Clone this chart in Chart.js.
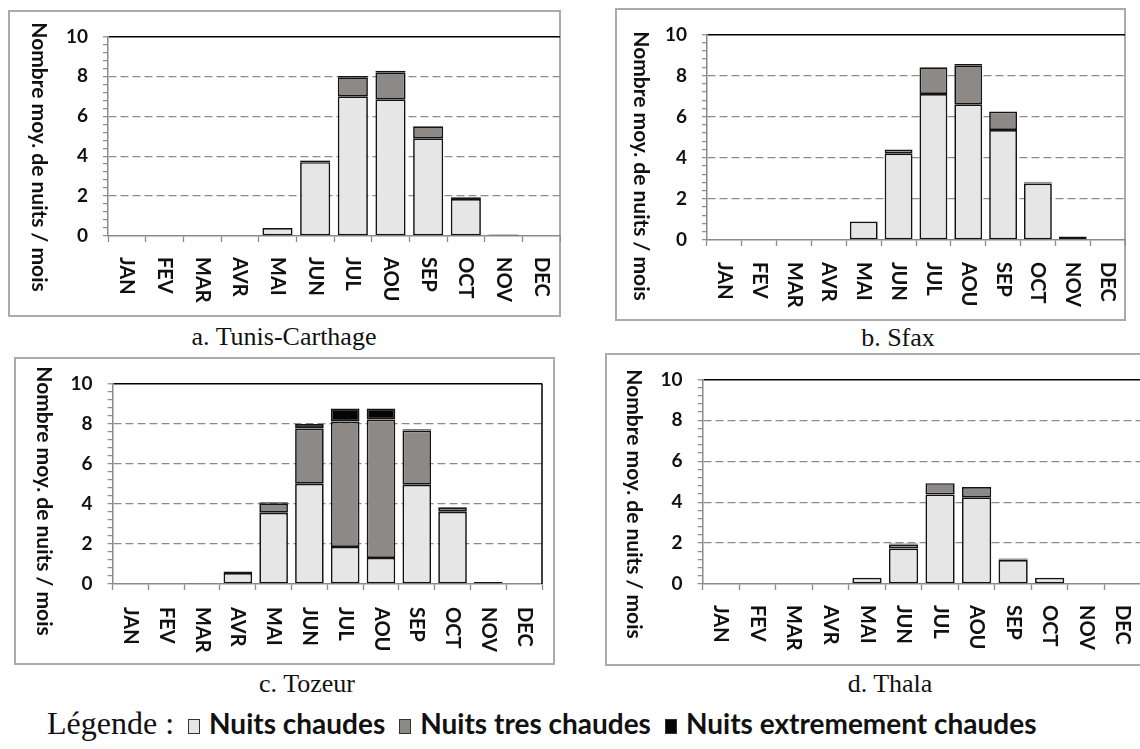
<!DOCTYPE html>
<html lang="fr">
<head>
<meta charset="utf-8">
<title>Nombre moyen de nuits chaudes par mois</title>
<script src="https://cdn.jsdelivr.net/npm/chart.js@4.4.1/dist/chart.umd.min.js"></script>
<style>
  html, body { margin: 0; padding: 0; background: #fff; overflow: hidden; }
  body { width: 1140px; height: 749px; position: relative; }
  .frame { position: absolute; box-sizing: border-box; border: 2px solid #ababab; }
  canvas.panel { position: absolute; }
  .caption {
    position: absolute; transform: translate(-50%, -50%); white-space: nowrap;
    font-family: "Liberation Serif", "Times New Roman", serif; font-size: 26px; color: #111;
  }
  .legend {
    position: absolute; left: 47px; top: 705px; height: 44px;
    display: flex; align-items: baseline; white-space: nowrap;
  }
  .legend .lt { font-family: "Liberation Serif", serif; font-size: 32px; color: #111; margin-right: 14px; }
  .legend .it { font-family: Lato, sans-serif; font-weight: 700; font-size: 28px; color: #111; margin-right: 14px; }
  .legend .sw {
    display: inline-block; width: 10px; height: 13px; border: 1.5px solid #333;
    margin-right: 9px; vertical-align: baseline;
  }
</style>
</head>
<body>
<div id="root"></div>
<script>
const months = ['JAN', 'FEV', 'MAR', 'AVR', 'MAI', 'JUN', 'JUL', 'AOU', 'SEP', 'OCT', 'NOV', 'DEC'];
const yTicks = [0, 2, 4, 6, 8, 10];
const seriesNames = ['Nuits chaudes', 'Nuits tres chaudes', 'Nuits extremement chaudes'];
const seriesColors = ['#e6e6e6', '#8d8986', '#050505'];
const axisTitle = 'Nombre moy. de nuits / mois';

// a. Tunis-Carthage
const tunisChaudes = [0, 0, 0, 0, 0.4, 3.7, 7.0, 6.85, 4.9, 1.85, 0.08, 0];
const tunisTres    = [0, 0, 0, 0, 0, 0.07, 0.95, 1.35, 0.6, 0.06, 0, 0];
const tunisExtreme = [0, 0, 0, 0, 0, 0.03, 0.06, 0.08, 0, 0.03, 0, 0];

// b. Sfax
const sfaxChaudes = [0, 0, 0, 0, 0.9, 4.2, 7.1, 6.6, 5.35, 2.75, 0.17, 0];
const sfaxTres    = [0, 0, 0, 0, 0, 0.2, 1.3, 1.9, 0.9, 0.05, 0, 0];
const sfaxExtreme = [0, 0, 0, 0, 0, 0, 0, 0.06, 0, 0.03, 0, 0];

// c. Tozeur
const tozeurChaudes = [0, 0, 0.05, 0.55, 3.55, 5.0, 1.85, 1.3, 4.95, 3.6, 0.1, 0];
const tozeurTres    = [0, 0, 0, 0, 0.45, 2.75, 6.25, 6.9, 2.7, 0.2, 0, 0];
const tozeurExtreme = [0, 0, 0, 0.07, 0.07, 0.22, 0.65, 0.55, 0.07, 0.04, 0, 0];

// d. Thala
const thalaChaudes = [0, 0, 0, 0, 0.3, 1.73, 4.38, 4.24, 1.17, 0.3, 0, 0];
const thalaTres    = [0, 0, 0, 0, 0, 0.2, 0.55, 0.5, 0.03, 0, 0, 0];
const thalaExtreme = [0, 0, 0, 0, 0, 0.05, 0, 0, 0.05, 0, 0, 0];

// frame box and plot area of every panel, in page pixels
const panels = [
  { caption: 'a. Tunis-Carthage', cap: [284, 337], frame: [8, 10, 553, 307], plot: [108, 24, 560, 236],
    title: [39, 157], gap: 21, series: [tunisChaudes, tunisTres, tunisExtreme] },
  { caption: 'b. Sfax', cap: [898, 338], frame: [615, 8, 511, 313], plot: [707, 19.5, 1125, 240],
    title: [641, 166], gap: 22, series: [sfaxChaudes, sfaxTres, sfaxExtreme] },
  { caption: 'c. Tozeur', cap: [307, 684], frame: [14, 357, 541, 308], plot: [112.6, 370, 542, 584],
    title: [44, 501], gap: 23, rightEdge: true, series: [tozeurChaudes, tozeurTres, tozeurExtreme] },
  { caption: 'd. Thala', cap: [890, 684], frame: [605, 353, 540, 313], plot: [702.6, 367.7, 1141, 584],
    title: [634, 504], gap: 21, series: [thalaChaudes, thalaTres, thalaExtreme] }
];

// room kept for the y tick labels (they are clipped to the axis box)
const yAxisWidth = 60;

Chart.defaults.font.family = 'Lato';

// month names and the y title both read top to bottom, so they are drawn by hand
const panelText = {
  id: 'panelText',
  afterDraw(chart, args, o) {
    const ctx = chart.ctx, xs = chart.scales.x, area = chart.chartArea;
    ctx.save();
    ctx.fillStyle = '#111';
    ctx.font = 'bold 20px Lato';
    ctx.textAlign = 'left';
    ctx.textBaseline = 'middle';
    chart.data.labels.forEach((lab, i) => {
      ctx.save();
      ctx.translate(xs.getPixelForTick(i), area.bottom + o.gap);
      ctx.rotate(Math.PI / 2);
      ctx.fillText(lab, 0, 0);
      ctx.restore();
    });
    ctx.font = 'bold 21px Lato';
    ctx.textAlign = 'center';
    ctx.save();
    ctx.translate(o.titleX, o.titleY);
    ctx.rotate(Math.PI / 2);
    ctx.fillText(axisTitle, 0, 0);
    ctx.restore();
    if (o.rightEdge) {
      ctx.strokeStyle = '#000';
      ctx.lineWidth = 1.5;
      ctx.beginPath();
      ctx.moveTo(area.right, area.top);
      ctx.lineTo(area.right, area.bottom);
      ctx.stroke();
    }
    ctx.restore();
  }
};

function isMajor(v) {
  return Math.abs(v / 2 - Math.round(v / 2)) < 1e-6;
}

function createPanel(p) {
  const root = document.getElementById('root');
  const [fx, fy, fw, fh] = p.frame;
  const [pl, pt, pr, pb] = p.plot;

  const box = document.createElement('div');
  box.className = 'frame';
  Object.assign(box.style, { left: fx + 'px', top: fy + 'px', width: fw + 'px', height: fh + 'px' });
  root.appendChild(box);

  const cv = document.createElement('canvas');
  cv.className = 'panel';
  cv.width = fw; cv.height = fh;
  Object.assign(cv.style, { left: fx + 'px', top: fy + 'px', width: fw + 'px', height: fh + 'px' });
  root.appendChild(cv);

  const cap = document.createElement('div');
  cap.className = 'caption';
  cap.textContent = p.caption;
  Object.assign(cap.style, { left: p.cap[0] + 'px', top: p.cap[1] + 'px' });
  root.appendChild(cap);

  new Chart(cv, {
    type: 'bar',
    data: {
      labels: months,
      datasets: p.series.map((d, i) => ({
        label: seriesNames[i],
        data: d,
        backgroundColor: seriesColors[i],
        borderColor: '#141414',
        borderWidth: 1.7,
        borderSkipped: false,
        categoryPercentage: 1,
        barPercentage: 0.8
      }))
    },
    plugins: [panelText],
    options: {
      responsive: false,
      animation: false,
      devicePixelRatio: 1,
      layout: {
        padding: { left: pl - fx - yAxisWidth, top: pt - fy, right: fx + fw - pr, bottom: fy + fh - pb }
      },
      plugins: {
        legend: { display: false },
        tooltip: { enabled: false },
        panelText: { gap: p.gap, titleX: p.title[0] - fx, titleY: p.title[1] - fy, rightEdge: !!p.rightEdge }
      },
      scales: {
        x: {
          stacked: true,
          afterFit: s => { s.height = 0; },
          ticks: { display: false },
          grid: { offset: true, drawOnChartArea: false, tickLength: 6, tickColor: '#8a8a8a', tickWidth: 1.3 },
          border: { color: '#8a8a8a', width: 1.5 }
        },
        y: {
          stacked: true,
          min: yTicks[0],
          max: yTicks[yTicks.length - 1],
          afterFit: s => { s.width = yAxisWidth; },
          ticks: {
            stepSize: 0.4,
            autoSkip: false,
            padding: 15,
            color: '#111',
            font: { size: 19, weight: 'bold' },
            callback: v => (isMajor(v) && yTicks.includes(Math.round(v)) ? String(Math.round(v)) : '')
          },
          grid: {
            tickLength: 5,
            tickColor: '#8a8a8a',
            tickWidth: 1.2,
            color: c => {
              const v = c.tick.value;
              if (Math.abs(v - 10) < 1e-6) return '#000';
              if (v > 0.1 && isMajor(v)) return '#8c8c8c';
              return 'rgba(0,0,0,0)';
            },
            lineWidth: c => (Math.abs(c.tick.value - 10) < 1e-6 ? 1.6 : 1.3)
          },
          border: {
            color: '#8a8a8a',
            width: 1.5,
            dash: c => (c.tick && c.tick.value < 9.9 ? [8, 4] : [])
          }
        }
      }
    }
  });
}

function createLegend() {
  const lg = document.createElement('div');
  lg.className = 'legend';
  const t = document.createElement('span');
  t.className = 'lt';
  t.textContent = 'Légende :';
  lg.appendChild(t);
  seriesNames.forEach((name, i) => {
    const it = document.createElement('span');
    it.className = 'it';
    const sw = document.createElement('i');
    sw.className = 'sw';
    sw.style.background = seriesColors[i];
    it.appendChild(sw);
    it.appendChild(document.createTextNode(name));
    lg.appendChild(it);
  });
  document.getElementById('root').appendChild(lg);
}

panels.forEach(createPanel);
createLegend();
</script>
</body>
</html>
